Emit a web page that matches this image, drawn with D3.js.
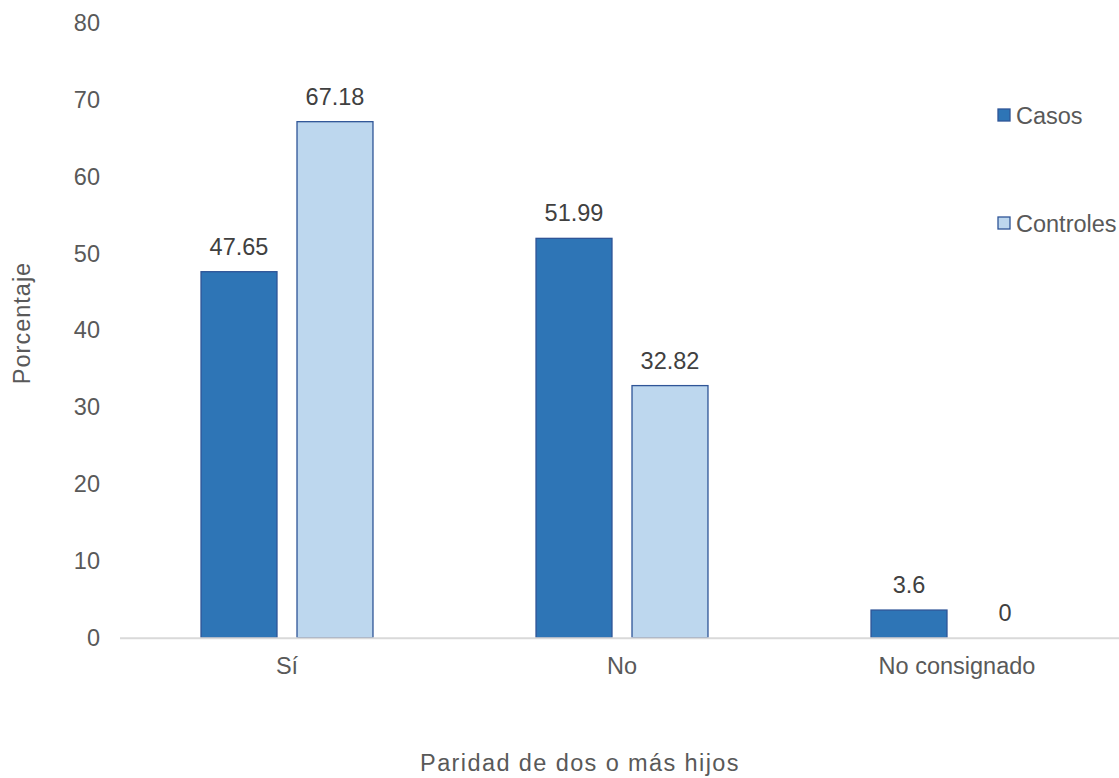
<!DOCTYPE html>
<html>
<head>
<meta charset="utf-8">
<script src="https://cdn.jsdelivr.net/npm/d3@7"></script>
<style>
  html, body { margin: 0; padding: 0; background: #ffffff; }
  svg { display: block; font-family: "Liberation Sans", Arial, sans-serif; }
</style>
</head>
<body>
<svg id="chart" width="1119" height="778"></svg>
<script>
// Paridad de dos o más hijos: porcentaje de casos y controles
const categories = ["Sí", "No", "No consignado"];
const seriesNames = ["Casos", "Controles"];
const casos = [47.65, 51.99, 3.6];
const controles = [67.18, 32.82, 0];
const yTicks = [0, 10, 20, 30, 40, 50, 60, 70, 80];

const colors = { Casos: "#2E75B6", Controles: "#BDD7EE" };
const strokeColor = "#2F5597";
const textColor = "#595959";
const fontSize = 23.5;

const svg = d3.select("#chart");

const rows = categories.map((c, i) => ({
  category: c,
  values: [
    { series: "Casos", value: casos[i] },
    { series: "Controles", value: controles[i] }
  ]
}));

const x0 = d3.scaleBand().domain(categories).range([119.5, 1124.5]).padding(0);
const x1 = d3.scaleBand().domain(seriesNames).range([0, x0.bandwidth()])
  .paddingInner(0.198).paddingOuter(0.844);
const y = d3.scaleLinear().domain([0, 80]).range([637.7, 23.2]);

// Y tick labels (no axis line, no gridlines)
svg.append("g").selectAll("text").data(yTicks).join("text")
  .attr("x", 100).attr("y", d => y(d))
  .attr("text-anchor", "end").attr("dominant-baseline", "central")
  .attr("fill", textColor).attr("font-size", fontSize)
  .text(d => d);

// Bars
const groups = svg.append("g").selectAll("g").data(rows).join("g")
  .attr("transform", d => `translate(${x0(d.category)},0)`);

groups.selectAll("rect").data(d => d.values.filter(v => v.value > 0)).join("rect")
  .attr("x", d => x1(d.series) + 0.5)
  .attr("y", d => y(d.value))
  .attr("width", x1.bandwidth() - 1)
  .attr("height", d => y(0) - y(d.value))
  .attr("fill", d => colors[d.series])
  .attr("stroke", strokeColor).attr("stroke-width", 1.3);

// Value labels
groups.selectAll("text").data(d => d.values).join("text")
  .attr("x", d => x1(d.series) + x1.bandwidth() / 2)
  .attr("y", d => y(d.value) - 17)
  .attr("text-anchor", "middle")
  .attr("fill", "#404040").attr("font-size", fontSize)
  .text(d => d.value);

// X axis baseline
const xAxis = d3.axisBottom(x0).tickSize(0).tickPadding(20);
const gx = svg.append("g").attr("transform", `translate(0,${y(0)})`).call(xAxis);
gx.select(".domain").attr("stroke", "#D9D9D9").attr("stroke-width", 2);
gx.selectAll(".tick text")
  .attr("fill", textColor).attr("font-size", fontSize)
  .attr("font-family", "Liberation Sans, Arial, sans-serif");

// Axis titles
svg.append("text")
  .attr("x", 580).attr("y", 771)
  .attr("text-anchor", "middle").attr("fill", textColor).attr("font-size", fontSize)
  .attr("letter-spacing", 1.4)
  .text("Paridad de dos o más hijos");

svg.append("text")
  .attr("transform", "translate(30,323) rotate(-90)")
  .attr("text-anchor", "middle").attr("fill", textColor).attr("font-size", fontSize)
  .attr("letter-spacing", 1)
  .text("Porcentaje");

// Legend
const legend = svg.append("g").selectAll("g").data(seriesNames).join("g")
  .attr("transform", (d, i) => `translate(998,${109 + i * 108})`);
legend.append("rect")
  .attr("width", 12).attr("height", 12)
  .attr("fill", d => colors[d]).attr("stroke", strokeColor).attr("stroke-width", 1.3);
legend.append("text")
  .attr("x", 18).attr("y", 14.5)
  .attr("fill", textColor).attr("font-size", fontSize)
  .text(d => d);
</script>
</body>
</html>
